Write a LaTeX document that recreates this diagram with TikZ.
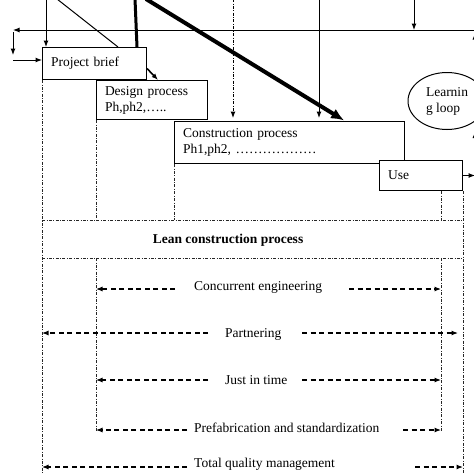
\documentclass[tikz,border=0pt]{standalone}
\usepackage{fontspec}
\setmainfont{Liberation Serif}
\usetikzlibrary{arrows.meta,shapes.geometric}
\begin{document}
\begin{tikzpicture}[x=1pt,y=-1pt,
  font=\fontsize{13.5}{16}\selectfont,
  box/.style={draw, line width=1pt, fill=white, anchor=north west, align=left, inner xsep=8.5pt, inner ysep=0pt},
  thin/.style={line width=1pt},
  tip/.style={-{Latex[length=6.5pt,width=5pt]}},
  dd/.style={line width=0.8pt, dash pattern=on 3pt off 1.5pt on 0.8pt off 1.5pt, black!85},
  da/.style={line width=1.1pt, dash pattern=on 5pt off 3.5pt, -{Latex[length=6.5pt,width=5pt]}},
  lbl/.style={anchor=base west, inner sep=0pt},
]
\useasboundingbox (0,0) rectangle (474,474);

% frame reference coordinates
\coordinate (bot) at (0,474);
\coordinate (lt) at (0,220);
\coordinate (lb) at (0,258);
\coordinate (ib) at (0,432);
\coordinate (iR) at (441,0);

% process boxes
\node[box, minimum width=104pt, minimum height=32pt, text width=87pt] (pb) at (42,47) {Project brief};
\node[box, minimum width=111pt, minimum height=39pt, text width=94pt] (dp) at (96,80) {Design process\\Ph,ph2,…..};
\node[box, minimum width=230pt, minimum height=42pt, text width=213pt] (cp) at (174,121) {Construction process\\Ph1,ph2, ………………};
\node[box, minimum width=83pt, minimum height=30pt, text width=66pt] (use) at (379,160) {Use};

% dash-dot frame
\draw[dd] (pb.south west) -- (pb.south west |- bot);
\draw[dd] (dp.south west) -- (dp.south west |- lt);
\draw[dd] (cp.south west) -- (cp.south west |- lt);
\draw[dd] (use.south -| iR) -- (iR |- lt);
\draw[dd] (use.south east) -- (use.south east |- bot);
\draw[dd] (pb.south west |- lt) -- (use.south east |- lt);
\draw[dd] (pb.south west |- lb) -- (use.south east |- lb);
\draw[dd] (dp.south west |- lb) -- (dp.south west |- ib);
\draw[dd] (iR |- lb) -- (iR |- ib);

% learning loop
\node[draw, ellipse, line width=1pt, minimum width=78pt, minimum height=57pt, align=left, inner sep=0pt] (ll) at (447,101) {Learnin\\g loop};

% top connectors
\coordinate (hL) at (13,30);
\coordinate (hR) at (476,30);
\draw[thin,tip] (hR) -- (hL);
\coordinate (v1) at (13,55);
\draw[thin,tip] ([yshift=-2pt]hL) -- (v1);
\coordinate (v2) at (13,60);
\draw[thin,tip] (v2) -- (v2 -| pb.west);

\coordinate (t1) at (46,-1);
\draw[thin,tip] (t1) -- (t1 |- pb.north);
\coordinate (t2) at (57,-1);
\coordinate (t2e) at (118,0);
\draw[thin] (t2) -- (t2e |- pb.north);
\coordinate (t3) at (135,-1);
\coordinate (t3e) at (137,0);
\draw[line width=3pt] (t3) -- (t3e |- pb.north);
\coordinate (t4) at (146,-1);
\coordinate (t4e) at (345,0);
\draw[line width=4pt, -{Latex[length=13pt,width=11pt]}, shorten >=1pt] (t4) -- (t4e |- cp.north);
\coordinate (t5) at (233,-1);
\draw[dd, black, line width=1pt, tip, shorten >=3pt] (t5) -- (t5 |- cp.north);
\coordinate (t6) at (319,-1);
\draw[thin, tip, shorten >=3pt] (t6) -- (t6 |- cp.north);
\coordinate (t7) at (414,-1);
\draw[thin, tip] (t7) -- (t7 |- hR);

\coordinate (pbd) at (158,0);
\draw[line width=1.6pt, tip] ([yshift=-5pt]pb.east) -- (pbd |- dp.north);

\draw[thin, tip] (use.east) -- ++(12,0);
\draw[thin, tip, shorten >=3pt] (ll.north east) -- (ll.north east |- hR);
\draw[thin, tip, shorten >=10pt] (use.east -| ll.south east) -- (ll.south east);

% lean band
\node[font=\bfseries\fontsize{13.5}{16}\selectfont, anchor=base, inner sep=0pt] (lean) at (228,243) {Lean construction process};

% lean tools
\node[lbl] (ce) at (194,290) {Concurrent engineering};
\node[lbl] (pa) at (225,337) {Partnering};
\node[lbl] (jit) at (225,384) {Just in time};
\node[lbl] (pre) at (194,432) {Prefabrication and standardization};
\node[lbl] (tqm) at (194,467) {Total quality management};

\coordinate (ceL) at (175,289); \coordinate (ceR) at (349,289);
\coordinate (paL) at (208,333); \coordinate (paR) at (302,333); \coordinate (paE) at (458,333);
\coordinate (jitL) at (208,380); \coordinate (jitR) at (302,380);
\coordinate (preL) at (187,430); \coordinate (preR) at (403,430);
\coordinate (tqmL) at (187,467); \coordinate (tqmR) at (415,467);

\draw[da] (ceL) -- (ceL -| dp.west);
\draw[da] (ceR) -- (ceR -| iR);
\draw[da] (paL) -- (paL -| pb.west);
\draw[da] (paR) -- (paE);
\draw[da] (jitL) -- (jitL -| dp.west);
\draw[da] (jitR) -- (jitR -| iR);
\draw[da] (preL) -- (preL -| dp.west);
\draw[da] (preR) -- (preR -| iR);
\draw[da] (tqmL) -- (tqmL -| pb.west);
\draw[da] (tqmR) -- (tqmR -| use.east);
\end{tikzpicture}
\end{document}
